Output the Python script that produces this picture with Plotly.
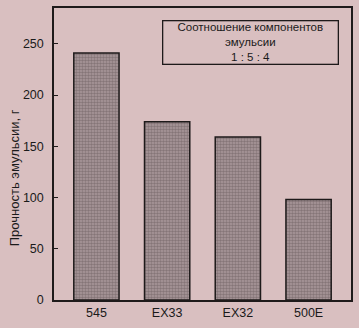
import plotly.graph_objects as go

categories = ["545", "EX33", "EX32", "500E"]
values = [241, 174, 159, 98]
y_ticks = [0, 50, 100, 150, 200, 250]
legend_lines = ["Соотношение компонентов", "эмульсии", "1 : 5 : 4"]
y_title = "Прочность эмульсии, г"

bg = "#d9bfc0"
fig = go.Figure(go.Bar(
    x=categories, y=values, width=0.64,
    marker=dict(
        color="#a6959a",
        line=dict(color="#1e1a1a", width=1.5),
        pattern=dict(shape=".", fgcolor="#5f5154", bgcolor="#ab999c", size=3, solidity=0.55),
    ),
))

fig.update_layout(
    width=359, height=328,
    margin=dict(l=54, r=7, t=6, b=28),
    paper_bgcolor=bg, plot_bgcolor=bg,
    font=dict(family="Liberation Sans, Arial, sans-serif", size=12, color="#1a1a1a"),
    showlegend=False,
    bargap=0.3,
)
fig.update_xaxes(
    range=[-0.6, 3.6], showline=True, linecolor="#1e1a1a", linewidth=1.5, mirror=True,
    ticks="", showgrid=False, tickfont=dict(size=12.5),
)
fig.update_yaxes(
    range=[0, 285], tickvals=y_ticks, showline=True, linecolor="#1e1a1a", linewidth=1.5,
    mirror=True, ticks="inside", ticklen=4, tickcolor="#1e1a1a", showgrid=False,
    zeroline=False, tickfont=dict(size=12.5), ticklabelstandoff=6,
)
fig.add_annotation(
    text=y_title, textangle=-90, xref="paper", yref="paper",
    x=-0.135, y=0.42, xanchor="center", yanchor="middle", showarrow=False,
    font=dict(size=13),
)
fig.add_annotation(
    text="<br>".join(legend_lines), xref="paper", yref="paper",
    x=0.663, y=0.959, xanchor="center", yanchor="top", showarrow=False,
    font=dict(size=11.5), bordercolor="#1e1a1a", borderwidth=1.3, borderpad=0,
    width=174, height=42, align="center",
)
fig.write_html("out.html")
